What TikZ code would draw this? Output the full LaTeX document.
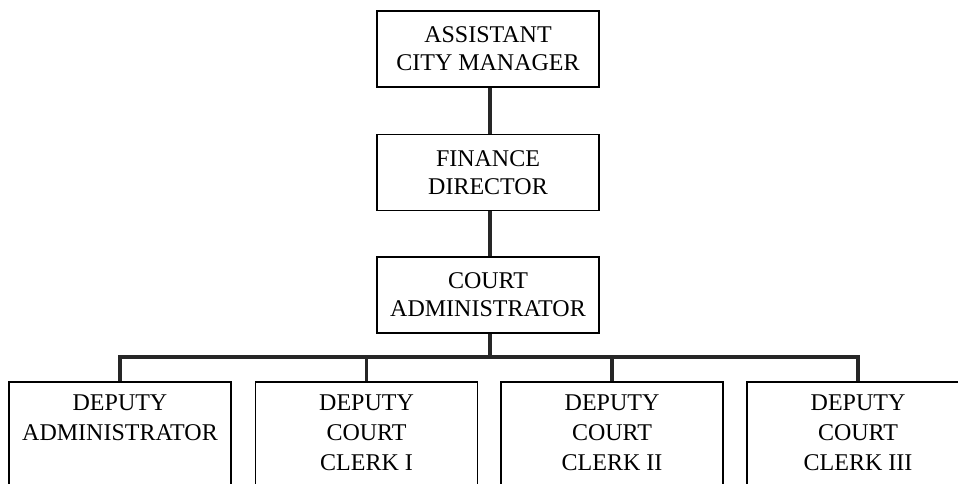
\documentclass[tikz,border=0pt]{standalone}
\usepackage{fontspec}
\setmainfont{Liberation Serif}
\begin{document}
\begin{tikzpicture}[x=1pt,y=-1pt,
  box/.style={draw=black, line width=1.8pt, minimum width=222pt, inner sep=0pt},
  topbox/.style={box, minimum height=76pt, align=center, font=\fontsize{24}{28}\selectfont},
  lowbox/.style={box, minimum height=140pt, anchor=north},
  lowtext/.style={anchor=north, inner sep=0pt, align=center, font=\fontsize{24}{30}\selectfont},
  conn/.style={line width=3.4pt, draw=black!85}]
\useasboundingbox (0,0) rectangle (958,483);
\clip (0,0) rectangle (958,483);
\node[topbox] (a) at (488,49) {ASSISTANT\\CITY MANAGER};
\node[topbox] (f) at (488,172.5) {FINANCE\\DIRECTOR};
\node[topbox] (c) at (488,295) {COURT\\ADMINISTRATOR};
\node[lowbox] (d1) at (120,381) {};
\node[lowbox] (d2) at (366.5,381) {};
\node[lowbox] (d3) at (612,381) {};
\node[lowbox] (d4) at (858,381) {};
\node[lowtext] (t1) at (120,395) {DEPUTY\\ADMINISTRATOR};
\node[lowtext] (t2) at (366.5,395) {DEPUTY\\COURT\\CLERK I};
\node[lowtext] (t3) at (612,395) {DEPUTY\\COURT\\CLERK II};
\node[lowtext] (t4) at (858,395) {DEPUTY\\COURT\\CLERK III};
\coordinate (bus) at (490,357);
\draw[conn] (a.south -| bus) -- (f.north -| bus);
\draw[conn] (f.south -| bus) -- (c.north -| bus);
\draw[conn] (c.south -| bus) -- (bus);
\draw[conn] (d1.north) |- (bus) -| (d4.north);
\draw[conn] (d2.north) -- (d2.north |- bus);
\draw[conn] (d3.north) -- (d3.north |- bus);
\end{tikzpicture}
\end{document}
